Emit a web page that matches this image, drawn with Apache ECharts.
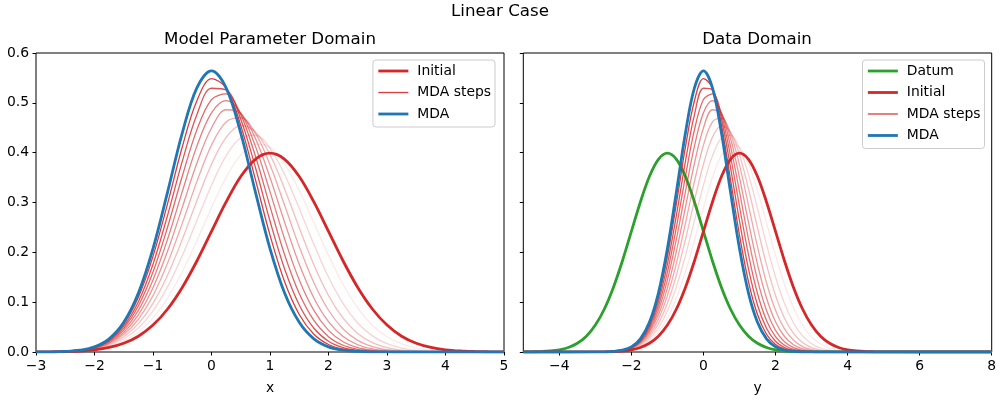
<!DOCTYPE html>
<html><head><meta charset="utf-8">
<script src="https://cdn.jsdelivr.net/npm/echarts@6/dist/echarts.min.js"></script>
<style>html,body{margin:0;padding:0;background:#fff}#c{width:1000px;height:400px}</style>
</head><body><div id="c"></div>
<script>
// ---- data ----
const xs = [-3,-2.75,-2.5,-2.25,-2,-1.75,-1.5,-1.25,-1,-0.75,-0.5,-0.25,0,0.25,0.5,0.75,1,1.25,1.5,1.75,2,2.25,2.5,2.75,3,3.25,3.5,3.75,4,4.25,4.5,4.75,5];
const initial = [0.0001,0.0004,0.0009,0.0020,0.0044,0.0091,0.0175,0.0317,0.0540,0.0863,0.1295,0.1826,0.2420,0.3011,0.3521,0.3867,0.3989,0.3867,0.3521,0.3011,0.2420,0.1826,0.1295,0.0863,0.0540,0.0317,0.0175,0.0091,0.0044,0.0020,0.0009,0.0004,0.0001];
const mda = [0.0001,0.0003,0.0011,0.0036,0.0103,0.0264,0.0595,0.1183,0.2076,0.3215,0.4394,0.5300,0.5642,0.5300,0.4394,0.3215,0.2076,0.1183,0.0595,0.0264,0.0103,0.0036,0.0011,0.0003,0.0001,0,0,0,0,0,0,0,0];
const step1 = [0.0001,0.0004,0.0010,0.0024,0.0053,0.0111,0.0218,0.0398,0.0679,0.1082,0.1609,0.2234,0.2895,0.3503,0.3957,0.4173,0.4109,0.3776,0.3240,0.2595,0.1941,0.1355,0.0883,0.0537,0.0305,0.0162,0.0080,0.0037,0.0016,0.0006,0.0002,0.0001,0];
const step2 = [0.0001,0.0004,0.0011,0.0027,0.0061,0.0131,0.0261,0.0482,0.0826,0.1311,0.1931,0.2640,0.3347,0.3938,0.4298,0.4352,0.4088,0.3563,0.2881,0.2161,0.1504,0.0971,0.0582,0.0323,0.0167,0.0080,0.0035,0.0015,0.0006,0.0002,0.0001,0,0];
const step3 = [0.0001,0.0004,0.0011,0.0029,0.0069,0.0151,0.0306,0.0569,0.0977,0.1546,0.2257,0.3037,0.3767,0.4309,0.4544,0.4418,0.3960,0.3273,0.2494,0.1752,0.1135,0.0678,0.0373,0.0189,0.0089,0.0038,0.0015,0.0006,0.0002,0.0001,0,0,0];
const step4 = [0.0001,0.0004,0.0012,0.0031,0.0076,0.0170,0.0349,0.0657,0.1131,0.1785,0.2581,0.3419,0.4151,0.4616,0.4703,0.4391,0.3756,0.2944,0.2113,0.1390,0.0838,0.0463,0.0234,0.0109,0.0046,0.0018,0.0006,0.0002,0.0001,0,0,0,0];
const step5 = [0.0001,0.0004,0.0012,0.0033,0.0082,0.0189,0.0393,0.0746,0.1288,0.2026,0.2902,0.3786,0.4495,0.4861,0.4785,0.4289,0.3501,0.2602,0.1760,0.1085,0.0608,0.0311,0.0145,0.0061,0.0024,0.0008,0.0003,0.0001,0,0,0,0,0];
const step6 = [0.0001,0.0004,0.0012,0.0034,0.0088,0.0206,0.0435,0.0834,0.1446,0.2267,0.3218,0.4131,0.4800,0.5046,0.4800,0.4131,0.3218,0.2267,0.1446,0.0834,0.0435,0.0206,0.0088,0.0034,0.0012,0.0004,0.0001,0,0,0,0,0,0];
const step7 = [0.0001,0.0004,0.0012,0.0035,0.0093,0.0222,0.0477,0.0922,0.1604,0.2508,0.3526,0.4457,0.5066,0.5178,0.4759,0.3933,0.2923,0.1953,0.1173,0.0634,0.0308,0.0135,0.0053,0.0019,0.0006,0.0002,0,0,0,0,0,0,0];
const step8 = [0.0001,0.0003,0.0012,0.0035,0.0097,0.0237,0.0518,0.1010,0.1762,0.2746,0.3824,0.4760,0.5293,0.5260,0.4671,0.3707,0.2629,0.1666,0.0943,0.0477,0.0216,0.0087,0.0031,0.0010,0.0003,0.0001,0,0,0,0,0,0,0];
const step9 = [0.0001,0.0003,0.0011,0.0036,0.0100,0.0251,0.0557,0.1097,0.1919,0.2982,0.4114,0.5041,0.5485,0.5299,0.4547,0.3464,0.2344,0.1409,0.0752,0.0356,0.0150,0.0056,0.0019,0.0005,0.0001,0,0,0,0,0,0,0,0];
const mdaSteps = [step1,step2,step3,step4,step5,step6,step7,step8,step9];
const stepAlpha = [0.1,0.2,0.3,0.4,0.5,0.6,0.7,0.8,0.9];
const datumX = [-5,-4.75,-4.5,-4.25,-4,-3.75,-3.5,-3.25,-3,-2.75,-2.5,-2.25,-2,-1.75,-1.5,-1.25,-1,-0.75,-0.5,-0.25,0,0.25,0.5,0.75,1,1.25,1.5,1.75,2,2.25,2.5,2.75,3];
const datum = [0.0001,0.0004,0.0009,0.0020,0.0044,0.0091,0.0175,0.0317,0.0540,0.0863,0.1295,0.1826,0.2420,0.3011,0.3521,0.3867,0.3989,0.3867,0.3521,0.3011,0.2420,0.1826,0.1295,0.0863,0.0540,0.0317,0.0175,0.0091,0.0044,0.0020,0.0009,0.0004,0.0001];
const leftXRange = [-3, 5];
const rightXRange = [-5, 8];
const rightXTicks = [-4,-2,0,2,4,6,8];
const yRange = [0, 0.6];

// ---- chart ----
const FONT = 'DejaVu Sans';
const RED = '#d62728', BLUE = '#1f77b4', GREEN = '#2ca02c';
const pts = (xa, ya) => xa.map((x, i) => [x, ya[i]]);
const padR = (xa, ya) => [[rightXRange[0], 0]].concat(pts(xa, ya), [[rightXRange[1], 0]]);
const minus = v => (v < 0 ? '\u2212' + (-v) : String(v));

function line(name, data, ax, color, width, opacity) {
  return {
    type: 'line', name, data, xAxisIndex: ax, yAxisIndex: ax,
    symbol: 'none', showSymbol: false, smooth: 0.35, clip: true,
    lineStyle: { color, width, opacity, cap: 'butt' },
    itemStyle: { color },
    emphasis: { disabled: true }, silent: true
  };
}
const series = [];
// left panel
series.push(line('Initial', pts(xs, initial), 0, RED, 2.8, 1));
mdaSteps.forEach((s, i) => series.push(line('MDA steps', pts(xs, s), 0, RED, 1.3, stepAlpha[i])));
series.push(line('MDA', pts(xs, mda), 0, BLUE, 2.8, 1));
// right panel
series.push(line('Datum', pts(datumX, datum).concat([[rightXRange[1], 0]]), 1, GREEN, 2.8, 1));
series.push(line('Initial', padR(xs, initial), 1, RED, 2.8, 1));
mdaSteps.forEach((s, i) => series.push(line('MDA steps', padR(xs, s), 1, RED, 1.3, stepAlpha[i])));
series.push(line('MDA', padR(xs, mda), 1, BLUE, 2.8, 1));

const tickStyle = { show: true, inside: false, length: 3.5, lineStyle: { color: '#000', width: 1 } };
const labelStyle = { color: '#000', fontFamily: FONT, fontSize: 13.9, margin: 7 };
const nameStyle = { color: '#000', fontFamily: FONT, fontSize: 13.9 };
const noLine = { show: false, onZero: false };

function legendItem(name, w, op) {
  return { name, lineStyle: { width: w, opacity: op },
           itemStyle: { color: 'rgba(0,0,0,0)', borderWidth: 0, opacity: 0 } };
}
const legendCommon = {
  orient: 'vertical', top: 60, itemWidth: 30, itemHeight: 14, itemGap: 7.5,
  padding: [4, 4, 6, 4], borderColor: '#cccccc', borderWidth: 1, borderRadius: 3,
  backgroundColor: 'rgba(255,255,255,0.8)', selectedMode: false,
  textStyle: { color: '#000', fontFamily: FONT, fontSize: 13.9, padding: [0, 0, 0, 4] }
};
const titleText = { fontFamily: FONT, fontSize: 16.67, fontWeight: 'normal', color: '#000' };

const option = {
  animation: false,
  backgroundColor: '#fff',
  title: [
    { text: 'Linear Case', left: 500, top: 12, padding: 0, textAlign: 'center', textVerticalAlign: 'middle', textStyle: titleText },
    { text: 'Model Parameter Domain', left: 270, top: 39.5, padding: 0, textAlign: 'center', textVerticalAlign: 'middle', textStyle: titleText },
    { text: 'Data Domain', left: 757, top: 39.5, padding: 0, textAlign: 'center', textVerticalAlign: 'middle', textStyle: titleText }
  ],
  legend: [
    Object.assign({}, legendCommon, { right: 505,
      data: [legendItem('Initial', 2.8, 1), legendItem('MDA steps', 1.3, 0.9), legendItem('MDA', 2.8, 1)] }),
    Object.assign({}, legendCommon, { right: 15.5,
      data: [legendItem('Datum', 2.8, 1), legendItem('Initial', 2.8, 1), legendItem('MDA steps', 1.3, 0.9), legendItem('MDA', 2.8, 1)] })
  ],
  grid: [
    { left: 36, top: 53, width: 468, height: 299.5, show: true, borderColor: '#000', borderWidth: 1, backgroundColor: 'transparent' },
    { left: 523.3, top: 53, width: 468.4, height: 299.5, show: true, borderColor: '#000', borderWidth: 1, backgroundColor: 'transparent' }
  ],
  xAxis: [
    { type: 'value', gridIndex: 0, min: leftXRange[0], max: leftXRange[1], interval: 1,
      name: 'x', nameLocation: 'middle', nameGap: 29, nameTextStyle: nameStyle,
      axisLine: noLine, splitLine: { show: false }, axisTick: tickStyle,
      axisLabel: Object.assign({}, labelStyle, { formatter: minus }) },
    { type: 'value', gridIndex: 1, min: rightXRange[0], max: rightXRange[1],
      name: 'y', nameLocation: 'middle', nameGap: 29, nameTextStyle: nameStyle,
      axisLine: noLine, splitLine: { show: false },
      axisTick: Object.assign({}, tickStyle, { customValues: rightXTicks }),
      axisLabel: Object.assign({}, labelStyle, { formatter: minus, customValues: rightXTicks }) }
  ],
  yAxis: [
    { type: 'value', gridIndex: 0, min: yRange[0], max: yRange[1], interval: 0.1,
      axisLine: noLine, splitLine: { show: false }, axisTick: tickStyle,
      axisLabel: Object.assign({}, labelStyle, { formatter: v => v.toFixed(1) }) },
    { type: 'value', gridIndex: 1, min: yRange[0], max: yRange[1], interval: 0.1,
      axisLine: noLine, splitLine: { show: false }, axisTick: tickStyle,
      axisLabel: { show: false } }
  ],
  series
};
const chart = echarts.init(document.getElementById('c'), null, { renderer: 'canvas', width: 1000, height: 400 });
chart.setOption(option);
</script>
</body></html>
